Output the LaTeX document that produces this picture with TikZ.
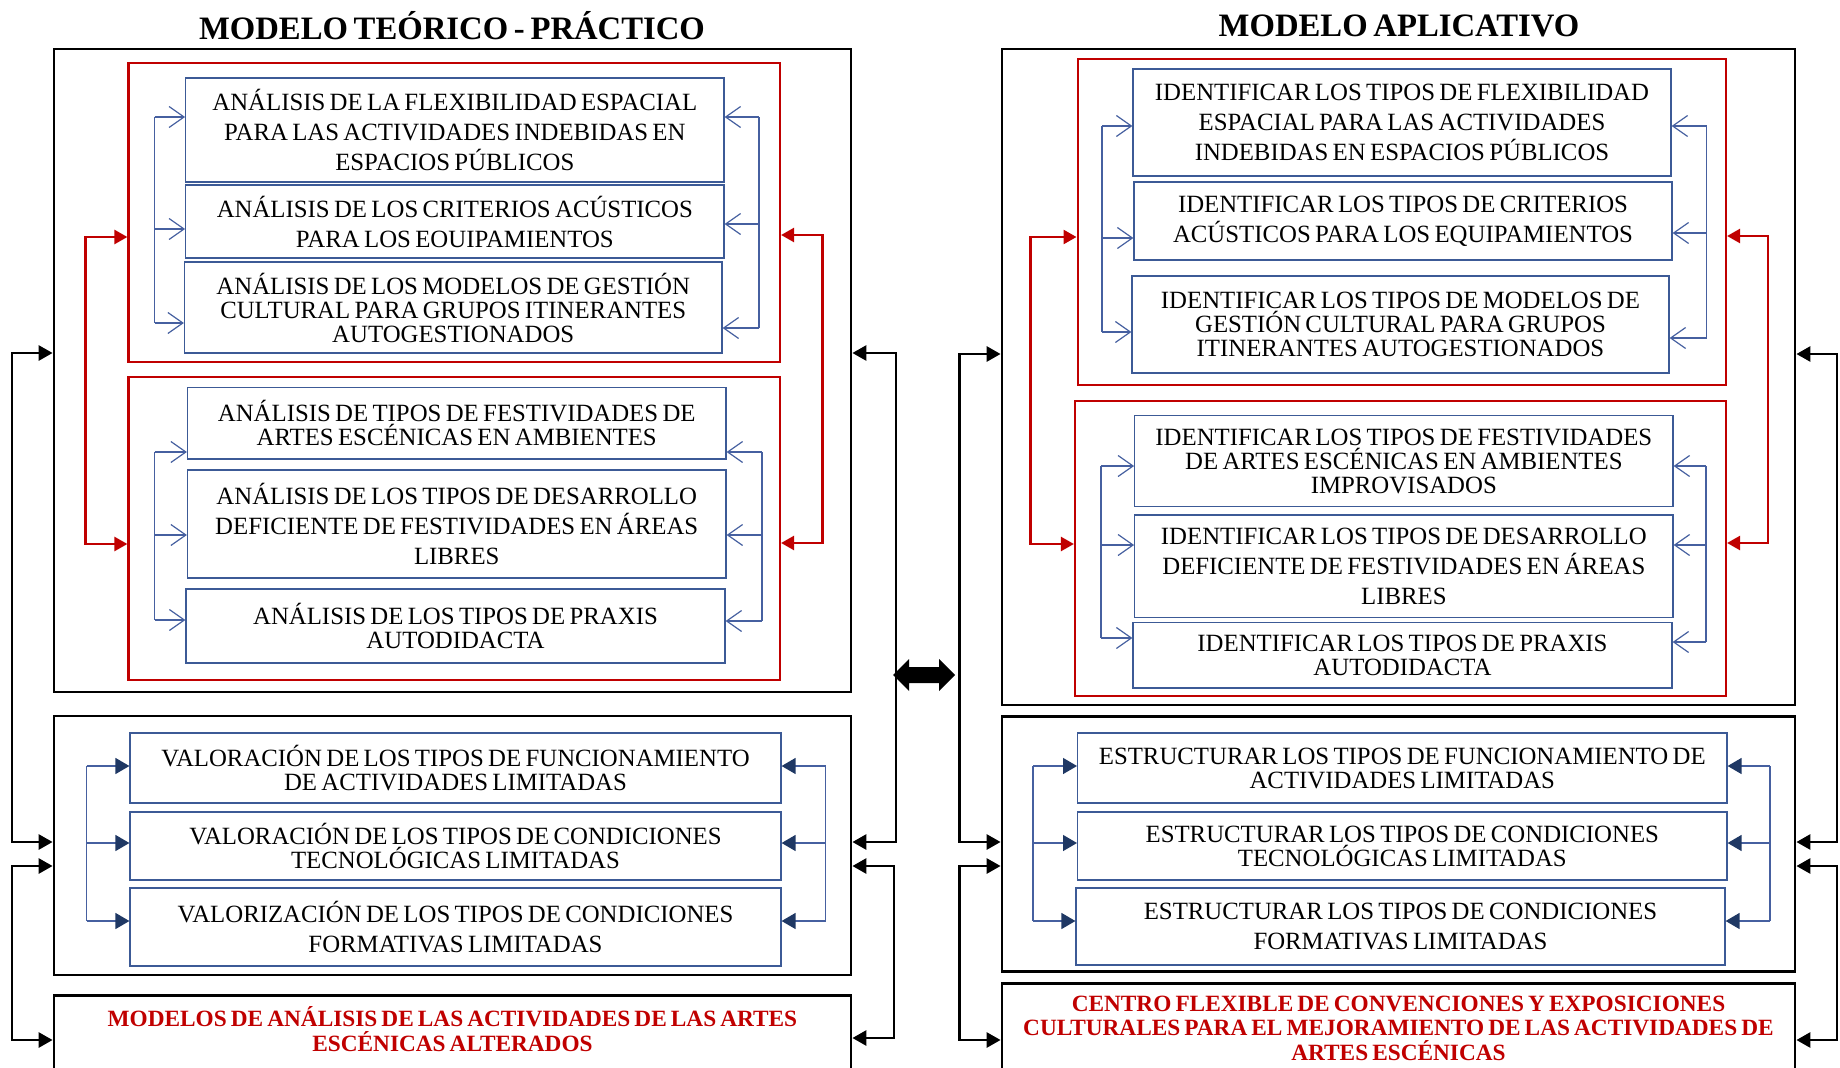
\documentclass[tikz,border=0pt]{standalone}
\usepackage{fontspec}
\setmainfont{Liberation Serif}[WordSpace=0.7]
\usetikzlibrary{arrows.meta}
\definecolor{myred}{RGB}{192,0,0}
\definecolor{boxblue}{RGB}{60,90,150}
\definecolor{lineblue}{RGB}{70,96,160}
\definecolor{navyarr}{RGB}{31,56,100}
\begin{document}
\begin{tikzpicture}[x=1pt,y=-1pt,
  outerbox/.style={draw=black, line width=2.8pt, inner sep=0pt},
  redbox/.style={draw=myred, line width=2.2pt, inner sep=0pt},
  bluebox/.style={draw=boxblue, line width=1.2pt, inner sep=0pt, align=center, text=black,
    font=\fontsize{24.8}{30}\selectfont},
  tight/.style={font=\fontsize{24.8}{24}\selectfont},
  titletext/.style={font=\bfseries\fontsize{32.7}{33}\selectfont},
  redtext/.style={text=myred, align=center, font=\bfseries\fontsize{23.3}{25}\selectfont},
  busline/.style={draw=lineblue, line width=1.2pt},
  openarr/.style={draw=lineblue, line width=1.2pt, -{Straight Barb[length=15pt,width=21pt]}},
  navyline/.style={draw=lineblue, line width=1.4pt},
  navyarrow/.style={draw=lineblue, line width=1.4pt, -{Triangle[length=14pt,width=16pt,color=navyarr,fill=navyarr]}},
  redconn/.style={draw=myred, line width=2.5pt, {Triangle[length=13pt,width=14pt]}-{Triangle[length=13pt,width=14pt]}},
  blackconn/.style={draw=black, line width=2.8pt, {Triangle[length=14pt,width=15pt]}-{Triangle[length=14pt,width=15pt]}}
]
\useasboundingbox (0,0) rectangle (1840,1068);

% ================= LEFT: MODELO TEORICO - PRACTICO =================
\node[titletext] (tL) at (452,26) {MODELO TEÓRICO - PRÁCTICO};
\node[outerbox, minimum width=797pt, minimum height=643pt] (oL1) at (452.5,370.5) {};
\node[redbox, minimum width=651.5pt, minimum height=299.3pt] (rL1) at (454.25,212.35) {};
\node[bluebox, minimum width=538.3pt, minimum height=104pt] (A1) at (454.85,130) {ANÁLISIS DE LA FLEXIBILIDAD ESPACIAL\\PARA LAS ACTIVIDADES INDEBIDAS EN\\ESPACIOS PÚBLICOS};
\node[bluebox, minimum width=538.3pt, minimum height=73pt] (A2) at (454.85,221.5) {ANÁLISIS DE LOS CRITERIOS ACÚSTICOS\\PARA LOS EOUIPAMIENTOS};
\node[bluebox, tight, minimum width=537.5pt, minimum height=91pt] (A3) at (453.25,307.5) {ANÁLISIS DE LOS MODELOS DE GESTIÓN\\CULTURAL PARA GRUPOS ITINERANTES\\AUTOGESTIONADOS};

\node[redbox, minimum width=651.5pt, minimum height=303.3pt] (rL2) at (454.25,528.35) {};
\node[bluebox, tight, minimum width=538.5pt, minimum height=71.3pt] (B1) at (456.75,423.35) {ANÁLISIS DE TIPOS DE FESTIVIDADES DE\\ARTES ESCÉNICAS EN AMBIENTES};
\node[bluebox, minimum width=538.5pt, minimum height=108pt] (B2) at (456.75,524) {ANÁLISIS DE LOS TIPOS DE DESARROLLO\\DEFICIENTE DE FESTIVIDADES EN ÁREAS\\LIBRES};
\node[bluebox, tight, minimum width=539pt, minimum height=74pt] (B3) at (455.5,626) {ANÁLISIS DE LOS TIPOS DE PRAXIS\\AUTODIDACTA};

\node[outerbox, minimum width=797pt, minimum height=259pt] (oL2) at (452.5,845.5) {};
\node[bluebox, tight, minimum width=651pt, minimum height=70pt] (C1) at (455.5,768) {VALORACIÓN DE LOS TIPOS DE FUNCIONAMIENTO\\DE ACTIVIDADES LIMITADAS};
\node[bluebox, tight, minimum width=651pt, minimum height=68pt] (C2) at (455.5,846) {VALORACIÓN DE LOS TIPOS DE CONDICIONES\\TECNOLÓGICAS LIMITADAS};
\node[bluebox, minimum width=651pt, minimum height=78pt] (C3) at (455.5,927) {VALORIZACIÓN DE LOS TIPOS DE CONDICIONES\\FORMATIVAS LIMITADAS};

\node[outerbox, anchor=north, minimum width=797pt, minimum height=150pt] (botL) at (452.5,994) {};
\node[redtext] (botLtext) at (452.5,1029.5) {MODELOS DE ANÁLISIS DE LAS ACTIVIDADES DE LAS ARTES\\ESCÉNICAS ALTERADOS};

% blue open-arrow buses, red group 1
\coordinate (la1) at (154.5,117); \coordinate (la2) at (154.5,229); \coordinate (la3) at (154.5,323);
\draw[busline] (la1) -- (la3);
\draw[openarr] (la1) -- (A1.west |- la1);
\draw[openarr] (la2) -- (A2.west |- la2);
\draw[openarr] (la3) -- (A3.west |- la3);
\coordinate (ra1) at (759,117); \coordinate (ra2) at (759,224); \coordinate (ra3) at (759,328);
\draw[busline] (ra1) -- (ra3);
\draw[openarr] (ra1) -- (A1.east |- ra1);
\draw[openarr] (ra2) -- (A2.east |- ra2);
\draw[openarr] (ra3) -- (A3.east |- ra3);
% red group 2
\coordinate (lb1) at (154.5,452); \coordinate (lb2) at (154.5,535); \coordinate (lb3) at (154.5,620);
\draw[busline] (lb1) -- (lb3);
\draw[openarr] (lb1) -- (B1.west |- lb1);
\draw[openarr] (lb2) -- (B2.west |- lb2);
\draw[openarr] (lb3) -- (B3.west |- lb3);
\coordinate (rb1) at (762,452); \coordinate (rb2) at (762,535); \coordinate (rb3) at (762,621);
\draw[busline] (rb1) -- (rb3);
\draw[openarr] (rb1) -- (B1.east |- rb1);
\draw[openarr] (rb2) -- (B2.east |- rb2);
\draw[openarr] (rb3) -- (B3.east |- rb3);
% valoracion group
\coordinate (lc1) at (86.7,766); \coordinate (lc2) at (86.7,843); \coordinate (lc3) at (86.7,921);
\draw[navyline] (lc1) -- (lc3);
\draw[navyarrow] (lc1) -- (C1.west |- lc1);
\draw[navyarrow] (lc2) -- (C2.west |- lc2);
\draw[navyarrow] (lc3) -- (C3.west |- lc3);
\coordinate (rc1) at (825.5,766); \coordinate (rc2) at (825.5,843); \coordinate (rc3) at (825.5,921);
\draw[navyline] (rc1) -- (rc3);
\draw[navyarrow] (rc1) -- (C1.east |- rc1);
\draw[navyarrow] (rc2) -- (C2.east |- rc2);
\draw[navyarrow] (rc3) -- (C3.east |- rc3);
% red connectors
\coordinate (lr1) at (85.5,237); \coordinate (lr2) at (85.5,544);
\draw[redconn] (rL1.west |- lr1) -- (lr1) -- (lr2) -- (rL2.west |- lr2);
\coordinate (rr1) at (822.5,235); \coordinate (rr2) at (822.5,543);
\draw[redconn] (rL1.east |- rr1) -- (rr1) -- (rr2) -- (rL2.east |- rr2);
% black connectors
\coordinate (lk1) at (12,353); \coordinate (lk2) at (12,842); \coordinate (lk3) at (12,866); \coordinate (lk4) at (12,1040);
\draw[blackconn] (oL1.west |- lk1) -- (lk1) -- (lk2) -- (oL2.west |- lk2);
\draw[blackconn] (oL2.west |- lk3) -- (lk3) -- (lk4) -- (botL.west |- lk4);
\coordinate (rk1) at (896,353); \coordinate (rk2) at (896,842); \coordinate (rk3) at (894,866); \coordinate (rk4) at (894,1038);
\draw[blackconn] (oL1.east |- rk1) -- (rk1) -- (rk2) -- (oL2.east |- rk2);
\draw[blackconn] (oL2.east |- rk3) -- (rk3) -- (rk4) -- (botL.east |- rk4);

% ================= RIGHT: MODELO APLICATIVO =================
\node[titletext] (tR) at (1399,26) {MODELO APLICATIVO};
\node[outerbox, minimum width=793pt, minimum height=656pt] (oR1) at (1398.5,377) {};
\node[redbox, minimum width=648.4pt, minimum height=326pt] (rR1) at (1401.8,222) {};
\node[bluebox, minimum width=538pt, minimum height=107pt] (D1) at (1402,122.5) {IDENTIFICAR LOS TIPOS DE FLEXIBILIDAD\\ESPACIAL PARA LAS ACTIVIDADES\\INDEBIDAS EN ESPACIOS PÚBLICOS};
\node[bluebox, minimum width=538pt, minimum height=78pt] (D2) at (1403,221) {IDENTIFICAR LOS TIPOS DE CRITERIOS\\ACÚSTICOS PARA LOS EQUIPAMIENTOS};
\node[bluebox, tight, minimum width=537pt, minimum height=97pt] (D3) at (1400.5,324.5) {IDENTIFICAR LOS TIPOS DE MODELOS DE\\GESTIÓN CULTURAL PARA GRUPOS\\ITINERANTES AUTOGESTIONADOS};

\node[redbox, minimum width=651pt, minimum height=295pt] (rR2) at (1400.5,548.5) {};
\node[bluebox, tight, minimum width=538.3pt, minimum height=91pt] (E1) at (1403.85,461.2) {IDENTIFICAR LOS TIPOS DE FESTIVIDADES\\DE ARTES ESCÉNICAS EN AMBIENTES\\IMPROVISADOS};
\node[bluebox, minimum width=538.3pt, minimum height=102.7pt] (E2) at (1403.85,566.35) {IDENTIFICAR LOS TIPOS DE DESARROLLO\\DEFICIENTE DE FESTIVIDADES EN ÁREAS\\LIBRES};
\node[bluebox, tight, minimum width=539pt, minimum height=65.3pt] (E3) at (1402.5,655.35) {IDENTIFICAR LOS TIPOS DE PRAXIS\\AUTODIDACTA};

\node[outerbox, minimum width=793pt, minimum height=255pt] (oR2) at (1398.5,844.2) {};
\node[bluebox, tight, minimum width=649.4pt, minimum height=70pt] (F1) at (1402.3,768) {ESTRUCTURAR LOS TIPOS DE FUNCIONAMIENTO DE\\ACTIVIDADES LIMITADAS};
\node[bluebox, tight, minimum width=649.4pt, minimum height=68pt] (F2) at (1402.3,846) {ESTRUCTURAR LOS TIPOS DE CONDICIONES\\TECNOLÓGICAS LIMITADAS};
\node[bluebox, minimum width=649pt, minimum height=77pt] (F3) at (1400.5,926.5) {ESTRUCTURAR LOS TIPOS DE CONDICIONES\\FORMATIVAS LIMITADAS};

\node[outerbox, anchor=north, minimum width=793pt, minimum height=150pt] (botR) at (1398.5,981.7) {};
\node[redtext, font=\bfseries\fontsize{23.3}{24.5}\selectfont] (botRtext) at (1398.5,1028) {CENTRO FLEXIBLE DE CONVENCIONES Y EXPOSICIONES\\CULTURALES PARA EL MEJORAMIENTO DE LAS ACTIVIDADES DE\\ARTES ESCÉNICAS};

% buses red group R1
\coordinate (ld1) at (1102,126); \coordinate (ld2) at (1102,238); \coordinate (ld3) at (1102,332);
\draw[busline] (ld1) -- (ld3);
\draw[openarr] (ld1) -- (D1.west |- ld1);
\draw[openarr] (ld2) -- (D2.west |- ld2);
\draw[openarr] (ld3) -- (D3.west |- ld3);
\coordinate (rd1) at (1706.5,126); \coordinate (rd2) at (1706.5,233); \coordinate (rd3) at (1706.5,338);
\draw[busline] (rd1) -- (rd3);
\draw[openarr] (rd1) -- (D1.east |- rd1);
\draw[openarr] (rd2) -- (D2.east |- rd2);
\draw[openarr] (rd3) -- (D3.east |- rd3);
% red group R2
\coordinate (le1) at (1101,466); \coordinate (le2) at (1101,545); \coordinate (le3) at (1101,638);
\draw[busline] (le1) -- (le3);
\draw[openarr] (le1) -- (E1.west |- le1);
\draw[openarr] (le2) -- (E2.west |- le2);
\draw[openarr] (le3) -- (E3.west |- le3);
\coordinate (re1) at (1706,466); \coordinate (re2) at (1706,545); \coordinate (re3) at (1706,642);
\draw[busline] (re1) -- (re3);
\draw[openarr] (re1) -- (E1.east |- re1);
\draw[openarr] (re2) -- (E2.east |- re2);
\draw[openarr] (re3) -- (E3.east |- re3);
% estructurar group
\coordinate (lf1) at (1033,766); \coordinate (lf2) at (1033,843); \coordinate (lf3) at (1033,921);
\draw[navyline] (lf1) -- (lf3);
\draw[navyarrow] (lf1) -- (F1.west |- lf1);
\draw[navyarrow] (lf2) -- (F2.west |- lf2);
\draw[navyarrow] (lf3) -- (F3.west |- lf3);
\coordinate (rf1) at (1770,766); \coordinate (rf2) at (1770,843); \coordinate (rf3) at (1770,921);
\draw[navyline] (rf1) -- (rf3);
\draw[navyarrow] (rf1) -- (F1.east |- rf1);
\draw[navyarrow] (rf2) -- (F2.east |- rf2);
\draw[navyarrow] (rf3) -- (F3.east |- rf3);
% red connectors
\coordinate (lq1) at (1030.6,237); \coordinate (lq2) at (1030.6,544);
\draw[redconn] (rR1.west |- lq1) -- (lq1) -- (lq2) -- (rR2.west |- lq2);
\coordinate (rq1) at (1768,236); \coordinate (rq2) at (1768,543);
\draw[redconn] (rR1.east |- rq1) -- (rq1) -- (rq2) -- (rR2.east |- rq2);
% black connectors
\coordinate (lm1) at (959.4,354); \coordinate (lm2) at (959.4,842); \coordinate (lm3) at (959.4,866); \coordinate (lm4) at (959.4,1040);
\draw[blackconn] (oR1.west |- lm1) -- (lm1) -- (lm2) -- (oR2.west |- lm2);
\draw[blackconn] (oR2.west |- lm3) -- (lm3) -- (lm4) -- (botR.west |- lm4);
\coordinate (rm1) at (1837,354); \coordinate (rm2) at (1837,842); \coordinate (rm3) at (1837,866); \coordinate (rm4) at (1837,1040);
\draw[blackconn] (oR1.east |- rm1) -- (rm1) -- (rm2) -- (oR2.east |- rm2);
\draw[blackconn] (oR2.east |- rm3) -- (rm3) -- (rm4) -- (botR.east |- rm4);

% middle double arrow
\coordinate (mid) at (924,675);
\fill[black] ([xshift=-31pt]mid) -- ([xshift=-15pt,yshift=-16pt]mid) -- ([xshift=-15pt,yshift=-8pt]mid)
  -- ([xshift=15pt,yshift=-8pt]mid) -- ([xshift=15pt,yshift=-16pt]mid) -- ([xshift=31pt]mid)
  -- ([xshift=15pt,yshift=16pt]mid) -- ([xshift=15pt,yshift=8pt]mid) -- ([xshift=-15pt,yshift=8pt]mid)
  -- ([xshift=-15pt,yshift=16pt]mid) -- cycle;
\end{tikzpicture}
\end{document}
